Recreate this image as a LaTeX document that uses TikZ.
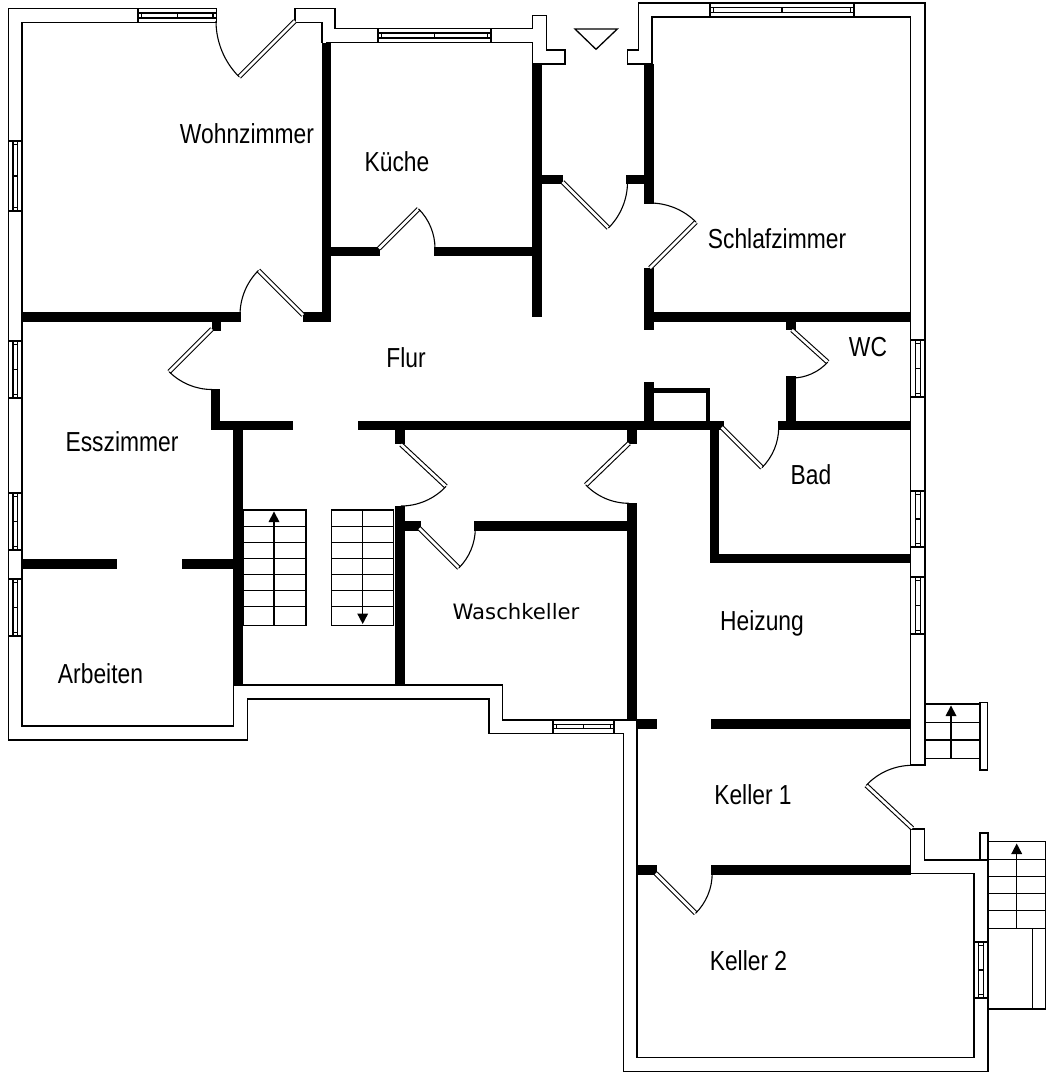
\documentclass[tikz,border=0pt]{standalone}
\usepackage{fontspec}
\newfontfamily\roomfont[FakeStretch=0.83]{Liberation Sans}
\newfontfamily\washfont{DejaVu Sans}
\tikzset{
  plan/.style={line width=1.3pt,line join=miter,draw=black},
  thin plan/.style={line width=1.1pt,draw=black},
  leaf/.style={line width=1.1pt,double=white,double distance=2.7pt,draw=black},
  swing/.style={line width=1.1pt,draw=black},
  room/.style={anchor=base,inner sep=0pt,font=\roomfont\fontsize{27.5}{28}\selectfont},
  washroom/.style={anchor=base,inner sep=0pt,font=\washfont\fontsize{21.2}{22}\selectfont}
}
\newcommand\wallbox[4]{\fill[black] (#1,#2) rectangle (#3,#4);}
\newcommand\winH[4]{%
  \draw[plan,fill=white] (#1,#2) rectangle (#3,#4);
  \draw[thin plan] (#1,#2+4.5) -- (#3,#2+4.5) (#1,#4-4.5) -- (#3,#4-4.5)
    (#1+3.5,#2+4.5) -- (#1+3.5,#4-4.5) (#3-3.5,#2+4.5) -- (#3-3.5,#4-4.5)
    ({(#1+#3)/2},#2+4.5) -- ({(#1+#3)/2},#4-4.5);}
\newcommand\winV[4]{%
  \draw[plan,fill=white] (#1,#2) rectangle (#3,#4);
  \draw[thin plan] (#1+4.5,#2) -- (#1+4.5,#4) (#3-4.5,#2) -- (#3-4.5,#4)
    (#1+4.5,#2+3.5) -- (#3-4.5,#2+3.5) (#1+4.5,#4-3.5) -- (#3-4.5,#4-3.5)
    (#1+4.5,{(#2+#4)/2}) -- (#3-4.5,{(#2+#4)/2});}
\newcommand\door[5]{%
  \draw[leaf] (#1,#2) -- ++(#3:#5);
  \draw[swing] (#1,#2) ++(#3:#5) arc[start angle=#3,end angle=#4,radius=#5];}
\newcommand\uparrowmark[3]{% x, tip y, base of stem
  \draw[thin plan] (#1,#3) -- (#1,#2+8);
  \fill[black] (#1,#2) -- (#1+5.5,#2+10.5) -- (#1-5.5,#2+10.5) -- cycle;}
\begin{document}
\begin{tikzpicture}[x=1pt,y=-1pt]
\useasboundingbox (0,0) rectangle (1047,1080);
\fill[white] (0,0) rectangle (1047,1080);
% outer walls
\draw[plan] (138,8.5) -- (8.5,8.5) -- (8.5,740) -- (247.7,740) -- (247.7,699) -- (489,699) -- (489,733.3) -- (623.3,733.3) -- (623.3,1071.7) -- (988,1071.7) -- (988,860) -- (924.3,860) -- (924.3,829) -- (910.7,829) -- (910.7,866);
\draw[plan] (138,22.5) -- (22,22.5) -- (22,726) -- (233.5,726) -- (233.5,685) -- (502.7,685) -- (502.7,720) -- (637,720) -- (637,1057.7) -- (974,1057.7) -- (974,873.5) -- (910.7,873.5);
\draw[plan] (295,22.5) -- (295,8.5) -- (335,8.5) -- (335,28.5) -- (378,28.5);
\draw[plan] (295,22.5) -- (322,22.5) -- (322,42.5);
\draw[plan] (326,42.5) -- (378,42.5);
\draw[plan] (491,28.5) -- (532.3,28.5) -- (532.3,15.5) -- (546.5,15.5) -- (546.5,50) -- (565,50) -- (565,64) -- (532.3,64) -- (532.3,42.5) -- (491,42.5);
\draw[plan] (652,64) -- (627.5,64) -- (627.5,50) -- (638.3,50) -- (638.3,3) -- (710,3);
\draw[plan] (652,64) -- (652,17) -- (710,17);
\draw[plan] (854,3) -- (925,3) -- (925,765) -- (910.7,765) -- (910.7,17) -- (854,17);
% windows
\winH{138}{8.5}{216.5}{22.5}
\winH{378}{28.5}{491}{42.5}
\winH{710}{3}{854}{17}
\winH{553}{720}{614}{733.3}
\winV{8.5}{141}{22}{211}
\winV{8.5}{341}{22}{398}
\winV{8.5}{493}{22}{550}
\draw[plan] (8.5,550) -- (22,550) (8.5,579) -- (22,579);
\winV{8.5}{579}{22}{636}
\winV{910.7}{340}{925}{397}
\winV{910.7}{491}{925}{547}
\winV{910.7}{577}{925}{634}
\winV{974}{942}{988}{998}
% structural walls
\wallbox{321.7}{42.5}{330.7}{321.7}
\wallbox{302.5}{312}{330.7}{321.7}
\wallbox{22}{312}{241}{322}
\wallbox{212}{322}{221}{330.7}
\wallbox{330}{247.3}{380}{256.3}
\wallbox{434}{247.3}{536}{256.3}
\wallbox{531.5}{64}{541.5}{316.7}
\wallbox{541}{175}{563}{184.3}
\wallbox{626}{175}{650}{184.3}
\wallbox{644}{64}{654}{204}
\wallbox{644}{268}{654}{330}
\wallbox{654}{312.3}{910.7}{321.7}
\wallbox{786}{321}{795.7}{329.5}
\wallbox{786}{376}{795.7}{430}
\wallbox{778}{420.7}{910.7}{430}
\wallbox{644}{382}{654}{430}
\wallbox{654}{388}{710}{392.7}
\wallbox{706}{388}{710}{421}
\wallbox{357.7}{420.7}{724.3}{430.4}
\wallbox{210.7}{420.7}{292.7}{430.4}
\wallbox{210.7}{389.3}{220}{430.4}
\wallbox{232.7}{430}{242.7}{685}
\wallbox{22}{559}{116.7}{569}
\wallbox{181.7}{559}{233}{569}
\wallbox{395}{430}{405}{444.3}
\wallbox{395}{505.7}{405}{685}
\wallbox{405}{520.7}{420.7}{530.7}
\wallbox{474.3}{521}{631}{530.7}
\wallbox{626.7}{430}{636.7}{444.3}
\wallbox{626.7}{502.7}{636.7}{720}
\wallbox{710}{430}{719.3}{563.3}
\wallbox{719}{554}{910.7}{563.3}
\wallbox{637}{719.3}{656.7}{729}
\wallbox{711}{719.3}{910.7}{729}
\wallbox{637}{865}{657}{875}
\wallbox{711}{865}{910.7}{875}
% doors
\door{295}{21}{135}{180}{79}
\door{303}{315}{225}{180}{63}
\door{212}{329}{135}{90}{60.5}
\door{379}{248.5}{-45}{0}{56}
\door{562.5}{182}{45}{0}{65}
\door{650}{268}{-45}{-90}{65}
\door{792}{330}{42}{90}{48}
\door{721.7}{427.3}{45}{0}{57}
\door{401}{444.5}{43}{90}{61.5}
\door{419.3}{528.3}{45}{0}{56}
\door{629}{443.3}{136}{90}{60}
\door{912.3}{828.3}{223}{270}{63}
\door{655.7}{873.3}{45}{0}{56.5}
% stairs
\draw[thin plan] (243.3,510) rectangle (306,625.7);
\draw[thin plan] (243.3,526.7) -- (306,526.7) (243.3,542.7) -- (306,542.7) (243.3,558.7) -- (306,558.7) (243.3,574.3) -- (306,574.3) (243.3,590.7) -- (306,590.7) (243.3,606.7) -- (306,606.7);
\uparrowmark{274}{511.5}{625.7}
\draw[thin plan] (331.3,510) rectangle (393.7,625.7);
\draw[thin plan] (331.3,526.7) -- (393.7,526.7) (331.3,542.7) -- (393.7,542.7) (331.3,558.7) -- (393.7,558.7) (331.3,574.3) -- (393.7,574.3) (331.3,590.7) -- (393.7,590.7) (331.3,606.7) -- (393.7,606.7);
\draw[thin plan] (362.7,510) -- (362.7,616);
\fill[black] (362.7,624) -- (368.2,613.5) -- (357.2,613.5) -- cycle;
\draw[plan] (924.3,704) -- (980,704) (924.3,758.3) -- (980,758.3);
\draw[thin plan] (924.3,722.7) -- (980,722.7) (924.3,740) -- (980,740);
\draw[plan] (980,702.7) rectangle (987.7,770);
\uparrowmark{951}{705.5}{758.3}
\draw[plan] (980,833) rectangle (988,860);
\draw[plan] (988,841.7) -- (1045.7,841.7) -- (1045.7,1009) -- (988,1009);
\draw[thin plan] (988,859.3) -- (1045.7,859.3) (988,876.7) -- (1045.7,876.7) (988,893.3) -- (1045.7,893.3) (988,910.7) -- (1045.7,910.7);
\draw[plan] (988,928.3) -- (1045.7,928.3) (1032.7,928.3) -- (1032.7,1009);
\uparrowmark{1016.7}{843.5}{928.3}
% entrance triangle
\draw[plan] (575,29) -- (617.3,29) -- (596,49.3) -- cycle;
% labels
\node[room] (wohn) at (247,143) {Wohnzimmer};
\node[room] (kueche) at (397,171.7) {Küche};
\node[room] (schlaf) at (777,248) {Schlafzimmer};
\node[room] (flur) at (406,367) {Flur};
\node[room] (wc) at (868,356.7) {WC};
\node[room] (ess) at (122,451.7) {Esszimmer};
\node[room] (bad) at (811,484) {Bad};
\node[washroom] (wasch) at (516,619.3) {Waschkeller};
\node[room] (heiz) at (762,630) {Heizung};
\node[room] (arb) at (100.5,683) {Arbeiten};
\node[room] (k1) at (753,804) {Keller 1};
\node[room] (k2) at (748.5,970.7) {Keller 2};
\end{tikzpicture}
\end{document}
